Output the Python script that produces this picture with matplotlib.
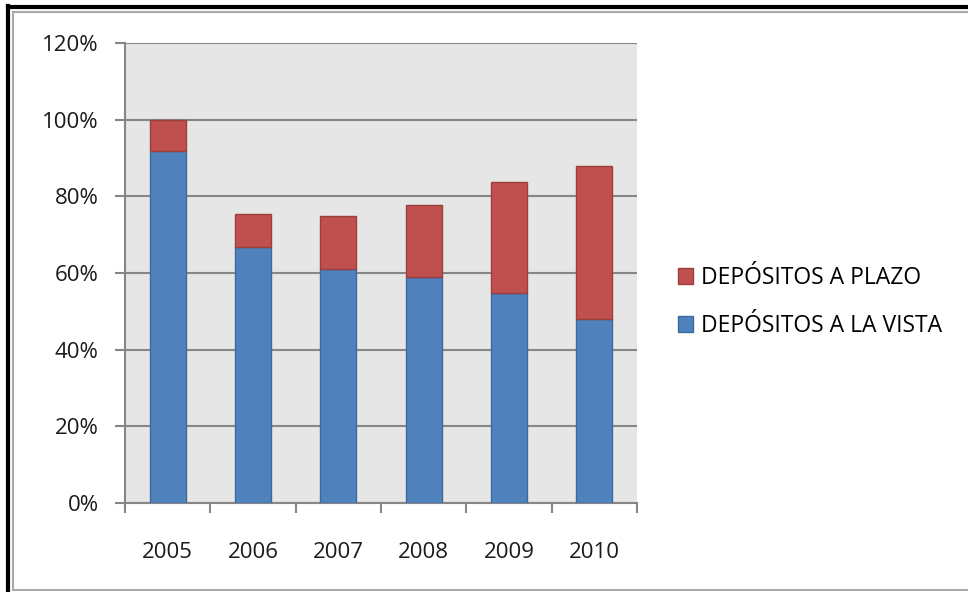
import matplotlib.pyplot as plt
from matplotlib.lines import Line2D
from matplotlib.ticker import PercentFormatter, FixedLocator
import numpy as np

plt.rcParams['font.family'] = ['Open Sans', 'DejaVu Sans']

years = ['2005', '2006', '2007', '2008', '2009', '2010']
vista = [91.8, 66.8, 61.0, 59.0, 54.8, 48.0]
plazo = [8.2, 8.6, 13.9, 18.7, 28.9, 39.9]

blue = '#4F81BD'
red = '#C0504D'
grid_col = '#868686'

fig = plt.figure(figsize=(9.68, 5.92), dpi=100)
ax = fig.add_axes([125 / 968, 1 - 503 / 592, 512 / 968, 460 / 592])
ax.set_facecolor('#E6E6E6')

x = np.arange(len(years))
w = 0.42
b1 = ax.bar(x, vista, w, color=blue, edgecolor='#3F6A9C', linewidth=1,
            label='DEPÓSITOS A LA VISTA', zorder=3)
b2 = ax.bar(x, plazo, w, bottom=vista, color=red, edgecolor='#9C3E3B',
            linewidth=1, label='DEPÓSITOS A PLAZO', zorder=3)

ax.set_xlim(-0.5, len(years) - 0.5)
ax.set_ylim(0, 120)
ax.set_yticks(range(0, 121, 20))
ax.yaxis.set_major_formatter(PercentFormatter(decimals=0))
ax.yaxis.grid(True, color=grid_col, linewidth=1.5, zorder=1)
ax.set_axisbelow(True)

ax.set_xticks(x)
ax.set_xticklabels(years)
ax.xaxis.set_minor_locator(FixedLocator(np.arange(-0.5, len(years), 1)))
ax.tick_params(axis='x', which='major', length=0, pad=28, labelsize=16,
               labelcolor='#1a1a1a')
ax.tick_params(axis='x', which='minor', length=7, width=1.5, color=grid_col,
               direction='out')
ax.tick_params(axis='y', length=7, width=1.5, color=grid_col, pad=12,
               labelsize=16, labelcolor='#1a1a1a')

for s in ['top', 'right']:
    ax.spines[s].set_visible(False)
for s in ['left', 'bottom']:
    ax.spines[s].set_color(grid_col)
    ax.spines[s].set_linewidth(1.5)

ax.legend(handles=[b2, b1], loc='center left', bbox_to_anchor=(1.04, 0.437),
          frameon=False, fontsize=16.5, handlelength=0.65, handleheight=0.65,
          handletextpad=0.35, labelspacing=1.05)

# frame around the picture
fig.add_artist(Line2D([8 / 968, 8 / 968], [0, 1 - 6 / 592], color='black',
                      linewidth=3, transform=fig.transFigure))
fig.add_artist(Line2D([8 / 968, 1], [1 - 7 / 592, 1 - 7 / 592], color='black',
                      linewidth=3, transform=fig.transFigure))
fig.add_artist(Line2D([13 / 968, 13 / 968], [2 / 592, 1 - 12 / 592],
                      color='#AAAAAA', linewidth=1.5, transform=fig.transFigure))
fig.add_artist(Line2D([13 / 968, 1], [1 - 12 / 592, 1 - 12 / 592],
                      color='#AAAAAA', linewidth=1.5, transform=fig.transFigure))
fig.add_artist(Line2D([13 / 968, 1], [2 / 592, 2 / 592],
                      color='#AAAAAA', linewidth=1.5, transform=fig.transFigure))

fig.savefig('out.png', dpi=100)
